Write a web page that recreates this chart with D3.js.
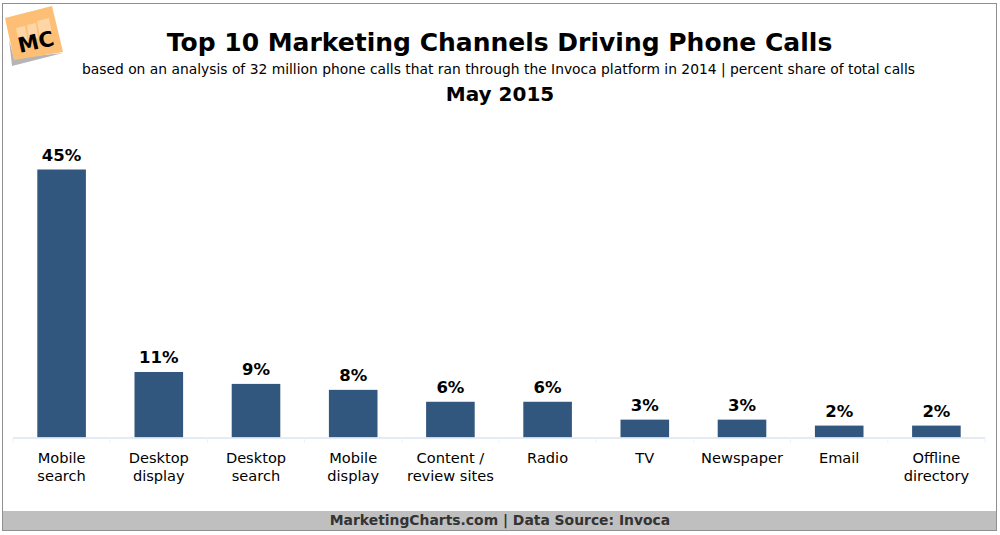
<!DOCTYPE html>
<html>
<head>
<meta charset="utf-8">
<script src="https://cdn.jsdelivr.net/npm/d3@7"></script>
<style>
html, body { margin: 0; padding: 0; background: #fff; }
svg { display: block; }
text { font-family: "DejaVu Sans", sans-serif; fill: #000; }
</style>
</head>
<body>
<script>
const categories = [
    ["Mobile", "search"],
    ["Desktop", "display"],
    ["Desktop", "search"],
    ["Mobile", "display"],
    ["Content /", "review sites"],
    ["Radio"],
    ["TV"],
    ["Newspaper"],
    ["Email"],
    ["Offline", "directory"]
]
const values = [45, 11, 9, 8, 6, 6, 3, 3, 2, 2]
const title = "Top 10 Marketing Channels Driving Phone Calls"
const subtitle = "based on an analysis of 32 million phone calls that ran through the Invoca platform in 2014 | percent share of total calls"
const dateline = "May 2015"
const footer = "MarketingCharts.com | Data Source: Invoca"

const width = 1000
const height = 535

const svg = d3.select("body")
    .append("svg")
    .attr("width", width)
    .attr("height", height)

// frame and footer band
svg.append("rect")
    .attr("x", 2.5)
    .attr("y", 3.5)
    .attr("width", 994)
    .attr("height", 527)
    .attr("fill", "#fff")
    .attr("stroke", "#8f8f8f")

svg.append("rect")
    .attr("x", 3)
    .attr("y", 511)
    .attr("width", 993)
    .attr("height", 19)
    .attr("fill", "#bfbfbf")

svg.append("text")
    .attr("x", 500)
    .attr("y", 525)
    .attr("text-anchor", "middle")
    .attr("font-size", 13.9)
    .attr("font-weight", "bold")
    .style("fill", "#333")
    .text(footer)

// logo
const logo = svg.append("g")
logo.append("path")
    .attr("d", "M12 66 L9 40 L14 58 L63 53 Z")
    .attr("fill", "#b5b5b5")
logo.append("path")
    .attr("d", "M5 18 L52 6 L63 52 L14 60 Z")
    .attr("fill", "#fdbf75")
logo.append("path")
    .attr("d", "M16 28 L25 26 L28 42 L19 44 Z M27 25 L36 23 L38 38 L29 41 Z M37 21 L49 18 L52 34 L40 37 Z")
    .attr("fill", "#fcd6a6")
logo.append("text")
    .attr("transform", "translate(37.5,49) rotate(-13)")
    .attr("text-anchor", "middle")
    .attr("font-size", 21)
    .attr("font-weight", "bold")
    .text("MC")

// headings
svg.append("text")
    .attr("x", 499.5)
    .attr("y", 51)
    .attr("text-anchor", "middle")
    .attr("font-size", 25)
    .attr("font-weight", "bold")
    .text(title)

svg.append("text")
    .attr("x", 498.5)
    .attr("y", 74)
    .attr("text-anchor", "middle")
    .attr("font-size", 13.85)
    .text(subtitle)

svg.append("text")
    .attr("x", 500)
    .attr("y", 101)
    .attr("text-anchor", "middle")
    .attr("font-size", 20)
    .attr("font-weight", "bold")
    .text(dateline)

// chart
const x = d3.scaleBand()
    .domain(d3.range(categories.length))
    .range([13, 985])
    .paddingInner(0.5)
    .paddingOuter(0.25)

const y = d3.scaleLinear()
    .domain([0, 45])
    .range([437.5, 169.5])

svg.selectAll(".bar")
    .data(values)
    .enter()
    .append("rect")
    .attr("class", "bar")
    .attr("x", (d, i) => x(i))
    .attr("y", d => y(d))
    .attr("width", x.bandwidth())
    .attr("height", d => y(0) - y(d))
    .attr("fill", "#32577f")

svg.selectAll(".value")
    .data(values)
    .enter()
    .append("text")
    .attr("class", "value")
    .attr("x", (d, i) => x(i) + x.bandwidth() / 2)
    .attr("y", d => y(d) - 9)
    .attr("text-anchor", "middle")
    .attr("font-size", 16.5)
    .attr("font-weight", "bold")
    .text(d => `${d}%`)

// axis line with ticks on the band edges
const step = x.step()
const axis = svg.append("g")
axis.append("line")
    .attr("x1", 13)
    .attr("x2", 985)
    .attr("y1", 438)
    .attr("y2", 438)
    .attr("stroke", "#dde4ee")
    .attr("stroke-width", 1.5)

axis.selectAll(".tick")
    .data(d3.range(categories.length + 1))
    .enter()
    .append("line")
    .attr("class", "tick")
    .attr("x1", d => x(0) - x.paddingOuter() * step + d * step)
    .attr("x2", d => x(0) - x.paddingOuter() * step + d * step)
    .attr("y1", 438)
    .attr("y2", 443)
    .attr("stroke", "#eef1f5")

svg.selectAll(".label")
    .data(categories)
    .enter()
    .append("text")
    .attr("class", "label")
    .attr("text-anchor", "middle")
    .attr("font-size", 14.6)
    .attr("y", 463)
    .selectAll("tspan")
    .data((d, i) => d.map(line => ({ line, i })))
    .enter()
    .append("tspan")
    .attr("x", d => x(d.i) + x.bandwidth() / 2)
    .attr("dy", (d, j) => j === 0 ? 0 : 18)
    .text(d => d.line)
</script>
</body>
</html>
